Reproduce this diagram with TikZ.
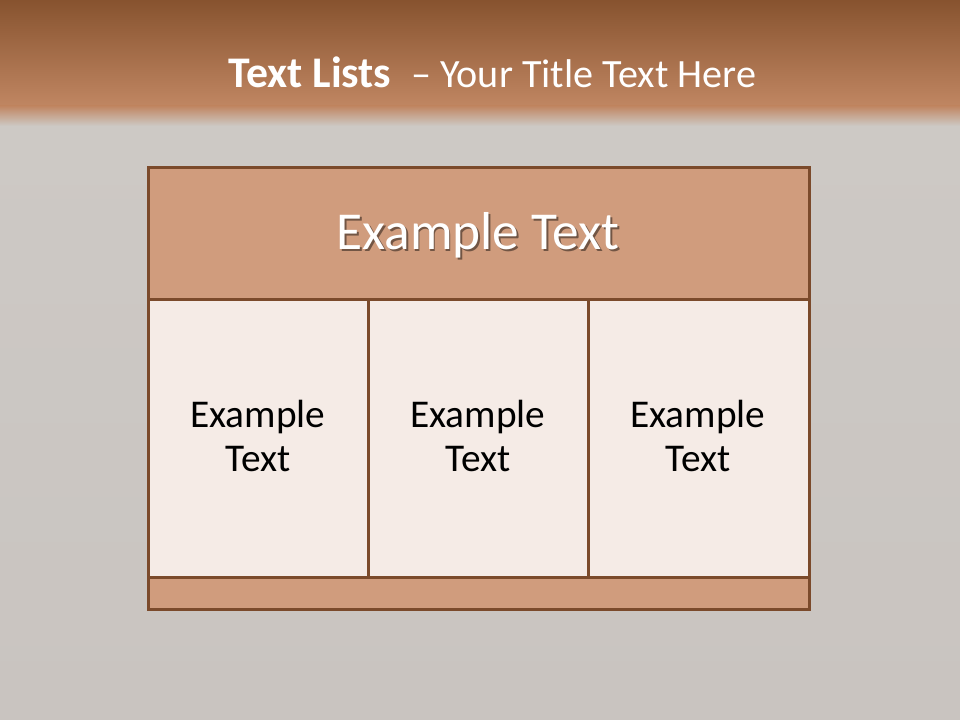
\documentclass[tikz,border=0pt]{standalone}
\usepackage{fontspec}
\setmainfont{Carlito}
\definecolor{bartop}{HTML}{87532F}
\definecolor{barbot}{HTML}{C08662}
\definecolor{bggray}{HTML}{CDC9C5}
\definecolor{bggray2}{HTML}{C9C4C0}
\definecolor{hdrfill}{HTML}{D09C7D}
\definecolor{cellfill}{HTML}{F5EBE6}
\definecolor{edgecol}{HTML}{7B4A2B}
\tikzset{
  boxcell/.style={draw=edgecol, line width=2.25pt, fill=cellfill},
  boxhdr/.style={draw=edgecol, line width=2.25pt, fill=hdrfill},
  celltext/.style={font=\fontsize{29.5}{35}\selectfont, text=black, align=center},
  hdrtext/.style={font=\fontsize{40}{48}\selectfont, text=white},
  hdrshadow/.style={font=\fontsize{40}{48}\selectfont, text=black, opacity=0.45},
  titletext/.style={text=white}
}
\begin{document}
\begin{tikzpicture}[x=0.75pt,y=-0.75pt]
\useasboundingbox (0,0) rectangle (960,720);
% background
\fill[bggray] (0,0) rectangle (960,720);
\shade[top color=bggray, bottom color=bggray2] (0,125) rectangle (960,720);
\shade[top color=bartop, bottom color=barbot] (0,0) rectangle (960,106);
\shade[top color=barbot, bottom color=bggray] (0,106) rectangle (960,126);
% title
\node[titletext, anchor=base west, inner sep=0pt] (title) at (228,88) {\fontsize{32.8}{38}\selectfont\textbf{Text Lists}\ \ \fontsize{30.1}{36}\selectfont– Your Title Text Here};
% table
\path[boxhdr] (148,168) rectangle (809,300);
\path[boxcell] (148,300) rectangle (368,577);
\path[boxcell] (368,300) rectangle (588,577);
\path[boxcell] (588,300) rectangle (809,577);
\path[boxhdr] (148,577) rectangle (809,609);
\node[hdrshadow, anchor=base, inner sep=0pt] (hdrsh) at (479.8,251.8) {Example Text};
\node[hdrtext, anchor=base, inner sep=0pt] (hdr) at (478,250) {Example Text};
\node[celltext, anchor=base, inner sep=0pt] (c1a) at (258,427) {Example};
\node[celltext, anchor=base, inner sep=0pt] (c1b) at (258,471) {Text};
\node[celltext, anchor=base, inner sep=0pt] (c2a) at (478,427) {Example};
\node[celltext, anchor=base, inner sep=0pt] (c2b) at (478,471) {Text};
\node[celltext, anchor=base, inner sep=0pt] (c3a) at (698,427) {Example};
\node[celltext, anchor=base, inner sep=0pt] (c3b) at (698,471) {Text};
\end{tikzpicture}
\end{document}
